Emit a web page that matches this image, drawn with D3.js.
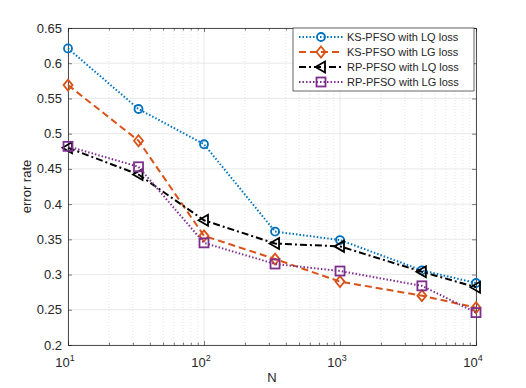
<!DOCTYPE html>
<html>
<head>
<meta charset="utf-8">
<script src="https://cdn.jsdelivr.net/npm/d3@7"></script>
<style>
  body { margin: 0; background: #fff; }
  svg { display: block; font-family: "Liberation Sans", Arial, sans-serif; }
</style>
</head>
<body>
<svg id="chart" width="526" height="388"></svg>
<script>
// data
const N = [10, 33, 100, 333, 1000, 4000, 10000];
const ksLQ = [0.621, 0.535, 0.485, 0.361, 0.349, 0.306, 0.288];
const ksLG = [0.569, 0.490, 0.355, 0.322, 0.290, 0.270, 0.253];
const rpLQ = [0.480, 0.442, 0.377, 0.344, 0.340, 0.304, 0.282];
const rpLG = [0.482, 0.453, 0.345, 0.315, 0.305, 0.284, 0.246];
const xTicks = [10, 100, 1000, 10000];
const yTicks = [0.2, 0.25, 0.3, 0.35, 0.4, 0.45, 0.5, 0.55, 0.6, 0.65];

const series = [
  { name: 'KS-PFSO with LQ loss', values: ksLQ, color: '#0072BD', dash: '1.5,2', marker: 'circle' },
  { name: 'KS-PFSO with LG loss', values: ksLG, color: '#D95319', dash: '7,4', marker: 'diamond' },
  { name: 'RP-PFSO with LQ loss', values: rpLQ, color: '#000000', dash: '7,3,2,3', marker: 'triangle' },
  { name: 'RP-PFSO with LG loss', values: rpLG, color: '#7E2F8E', dash: '1.5,2', marker: 'square' }
];

const svg = d3.select('#chart');
const pL = 68, pR = 476, pT = 28, pB = 345;

const x = d3.scaleLog().domain([10, 10000]).range([pL, pR]);
const y = d3.scaleLinear().domain([0.2, 0.65]).range([pB, pT]);

// minor x grid (dotted)
const minors = [];
for (let d = 10; d < 10000; d *= 10) for (let k = 2; k <= 9; k++) minors.push(d * k);
svg.append('g').selectAll('line').data(minors).join('line')
  .attr('x1', d => x(d)).attr('x2', d => x(d))
  .attr('y1', pT).attr('y2', pB)
  .attr('stroke', '#d0d0d0').attr('stroke-width', 0.6).attr('stroke-dasharray', '1,2');

// major grid
svg.append('g').selectAll('line').data(xTicks).join('line')
  .attr('x1', d => x(d)).attr('x2', d => x(d))
  .attr('y1', pT).attr('y2', pB)
  .attr('stroke', '#e3e3e3').attr('stroke-width', 0.8);
svg.append('g').selectAll('line').data(yTicks).join('line')
  .attr('x1', pL).attr('x2', pR)
  .attr('y1', d => y(d)).attr('y2', d => y(d))
  .attr('stroke', '#e3e3e3').attr('stroke-width', 0.8);

// axes (ticks inside)
const axCol = '#262626';
const allX = xTicks.concat(minors);
const gx = svg.append('g').attr('transform', `translate(0,${pB})`)
  .call(d3.axisBottom(x).tickValues(allX).tickSize(-4).tickFormat(''));
const gxTop = svg.append('g').attr('transform', `translate(0,${pT})`)
  .call(d3.axisTop(x).tickValues(allX).tickSize(-4).tickFormat(''));
const gy = svg.append('g').attr('transform', `translate(${pL},0)`)
  .call(d3.axisLeft(y).tickValues(yTicks).tickSize(-4).tickFormat(''));
const gyR = svg.append('g').attr('transform', `translate(${pR},0)`)
  .call(d3.axisRight(y).tickValues(yTicks).tickSize(-4).tickFormat(''));
gx.selectAll('.tick line').attr('stroke', axCol).attr('stroke-width', 0.6)
  .attr('y2', d => xTicks.includes(d) ? -4 : -2.5);
gxTop.selectAll('.tick line').attr('stroke', axCol).attr('stroke-width', 0.6)
  .attr('y2', d => xTicks.includes(d) ? 4 : 2.5);
[gy, gyR].forEach(g => g.selectAll('.tick line').attr('stroke', axCol).attr('stroke-width', 0.6));
[gx, gxTop, gy, gyR].forEach(g => g.select('.domain').attr('stroke', axCol).attr('stroke-width', 0.8));

// tick labels
svg.append('g').selectAll('text').data(yTicks).join('text')
  .attr('x', pL - 6).attr('y', d => y(d)).attr('dy', '0.35em')
  .attr('text-anchor', 'end').attr('font-size', 13).attr('fill', axCol)
  .text(d => d3.format('')(d));
const xl = svg.append('g').selectAll('text').data(xTicks).join('text')
  .attr('x', d => x(d) - 3).attr('y', pB + 22)
  .attr('text-anchor', 'middle').attr('font-size', 13).attr('fill', axCol);
xl.append('tspan').text('10');
xl.append('tspan').attr('dy', -6).attr('font-size', 9).text(d => Math.round(Math.log10(d)));

// axis titles
svg.append('text').attr('x', 272).attr('y', 382).attr('text-anchor', 'middle')
  .attr('font-size', 13).attr('fill', axCol).text('N');
svg.append('text').attr('transform', `translate(31,${(pT + pB) / 2}) rotate(-90)`)
  .attr('text-anchor', 'middle').attr('font-size', 13).attr('fill', axCol).text('error rate');

// markers
function drawMarker(g, type, color, cx, cy) {
  if (type === 'circle') {
    g.append('circle').attr('cx', cx).attr('cy', cy).attr('r', 4)
      .attr('fill', 'none').attr('stroke', color).attr('stroke-width', 1.8);
  } else if (type === 'diamond') {
    g.append('path').attr('d', `M${cx},${cy - 5.5}L${cx + 4.5},${cy}L${cx},${cy + 5.5}L${cx - 4.5},${cy}Z`)
      .attr('fill', 'none').attr('stroke', color).attr('stroke-width', 1.8);
  } else if (type === 'triangle') {
    g.append('path').attr('d', `M${cx - 5.5},${cy}L${cx + 4},${cy - 5.5}L${cx + 4},${cy + 5.5}Z`)
      .attr('fill', 'none').attr('stroke', color).attr('stroke-width', 1.8);
  } else {
    g.append('rect').attr('x', cx - 4.5).attr('y', cy - 4.5).attr('width', 9).attr('height', 9)
      .attr('fill', 'none').attr('stroke', color).attr('stroke-width', 1.8);
  }
}

const line = d3.line().x(d => x(d[0])).y(d => y(d[1]));
series.forEach(s => {
  const pts = N.map((n, i) => [n, s.values[i]]);
  const g = svg.append('g');
  g.append('path').datum(pts).attr('d', line)
    .attr('fill', 'none').attr('stroke', s.color).attr('stroke-width', 2)
    .attr('stroke-dasharray', s.dash);
  pts.forEach(p => drawMarker(g, s.marker, s.color, x(p[0]), y(p[1])));
});

// legend
const lg = svg.append('g');
lg.append('rect').attr('x', 293).attr('y', 28).attr('width', 181).attr('height', 63)
  .attr('fill', '#fff').attr('stroke', axCol).attr('stroke-width', 0.7);
series.forEach((s, i) => {
  const ly = 37 + i * 15;
  lg.append('line').attr('x1', 299).attr('x2', 343).attr('y1', ly).attr('y2', ly)
    .attr('stroke', s.color).attr('stroke-width', 2).attr('stroke-dasharray', s.dash);
  drawMarker(lg, s.marker, s.color, 321, ly);
  lg.append('text').attr('x', 347).attr('y', ly).attr('dy', '0.35em')
    .attr('font-size', 11).attr('fill', axCol).text(s.name);
});
</script>
</body>
</html>
